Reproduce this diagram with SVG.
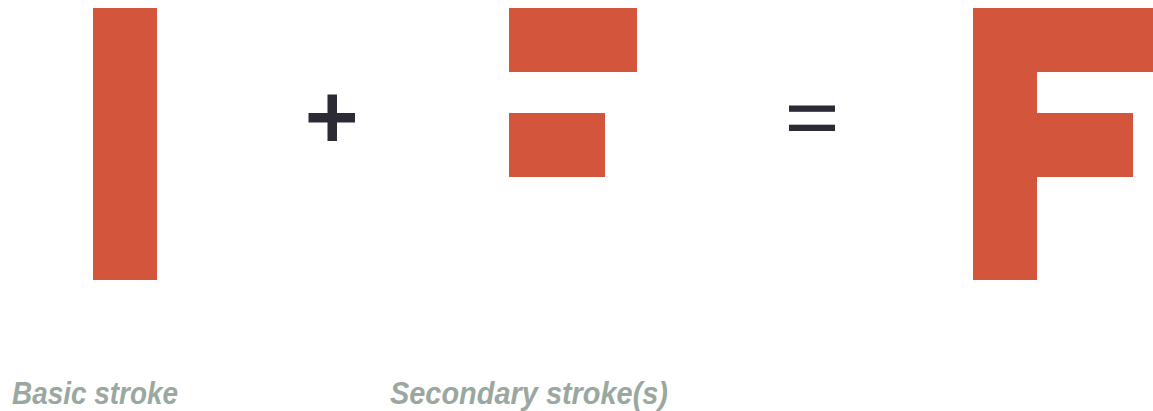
<svg xmlns="http://www.w3.org/2000/svg" width="1153" height="411" viewBox="0 0 1153 411">
<style>
.stroke{fill:#d3553c}
.op{fill:#2b2a35}
.lbl{font-family:"Liberation Sans",Arial,sans-serif;font-weight:bold;font-style:italic;font-size:32px;fill:#9aa89f}
</style>
<rect width="1153" height="411" fill="#ffffff"/>
<g id="basic">
<rect class="stroke" x="93" y="8" width="64" height="272"/>
</g>
<g id="plus">
<rect class="op" x="327.5" y="94.5" width="9.5" height="46.5"/>
<rect class="op" x="308.5" y="113" width="46.5" height="9.5"/>
</g>
<g id="secondary">
<rect class="stroke" x="509" y="8" width="128" height="64"/>
<rect class="stroke" x="509" y="113" width="96" height="64"/>
</g>
<g id="equals">
<rect class="op" x="789" y="105.5" width="46" height="6.3"/>
<rect class="op" x="789" y="124.7" width="46" height="6.3"/>
</g>
<g id="result">
<rect class="stroke" x="973" y="8" width="64" height="272"/>
<rect class="stroke" x="1037" y="8" width="116" height="64"/>
<rect class="stroke" x="1037" y="113" width="96" height="64"/>
</g>
<g id="labels">
<text class="lbl" x="12" y="404" textLength="166" lengthAdjust="spacingAndGlyphs">Basic stroke</text>
<text class="lbl" x="390" y="404" textLength="278" lengthAdjust="spacingAndGlyphs">Secondary stroke(s)</text>
</g>
</svg>
